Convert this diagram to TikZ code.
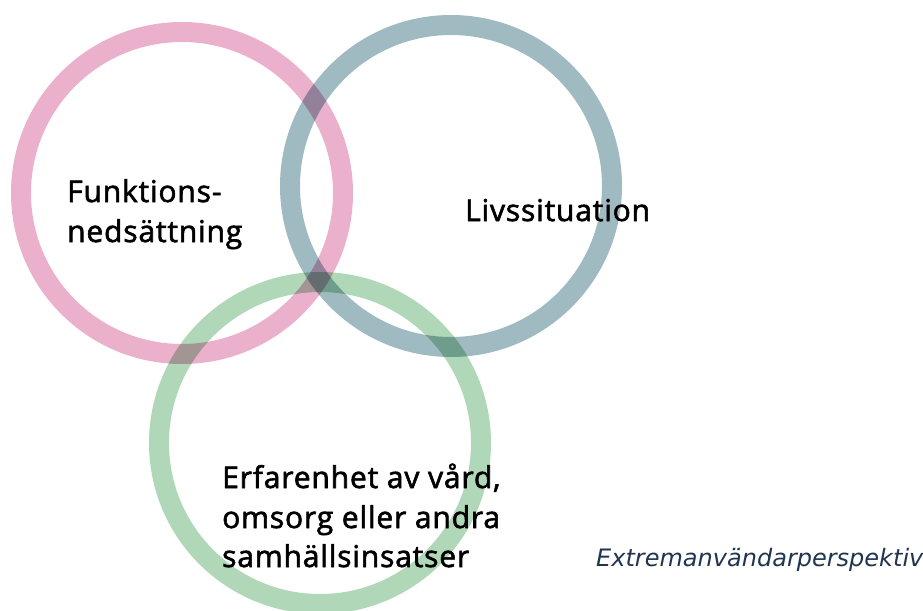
\documentclass[tikz,border=0pt]{standalone}
\usepackage{fontspec}
\setmainfont{Open Sans}
\newfontfamily\lblfont{Open Sans}[FakeBold=2,LetterSpace=2.8]
\newfontfamily\notefont{DejaVu Sans}
\definecolor{ringpink}{HTML}{EBB0CC}
\definecolor{ringteal}{HTML}{A0BAC1}
\definecolor{ringgreen}{HTML}{B0D8B8}
\definecolor{notecol}{HTML}{1F3550}
\begin{document}
\begin{tikzpicture}[x=1pt,y=-1pt,
  ring/.style={line width=20pt},
  label/.style={anchor=base west,inner sep=0pt,font=\lblfont\fontsize{30}{40}\selectfont,text=black},
  note/.style={anchor=base west,inner sep=0pt,font=\notefont\itshape\fontsize{24}{28}\selectfont,text=notecol}]
\useasboundingbox (0,0) rectangle (923,610);
\begin{scope}[blend group=multiply]
\draw[ring,ringpink] (182,193) circle (161);
\draw[ring,ringteal] (451,186) circle (161);
\draw[ring,ringgreen] (320,443) circle (161);
\end{scope}
\node[label] (f1) at (67,202) {Funktions-};
\node[label] (f2) at (67,242) {nedsättning};
\node[label] (liv) at (465,221) {Livssituation};
\node[label] (e1) at (222,488) {Erfarenhet av vård,};
\node[label] (e2) at (222,528) {omsorg eller andra};
\node[label] (e3) at (222,567) {samhällsinsatser};
\node[note] (ex) at (596,566) {Extremanvändarperspektiv};
\end{tikzpicture}
\end{document}
